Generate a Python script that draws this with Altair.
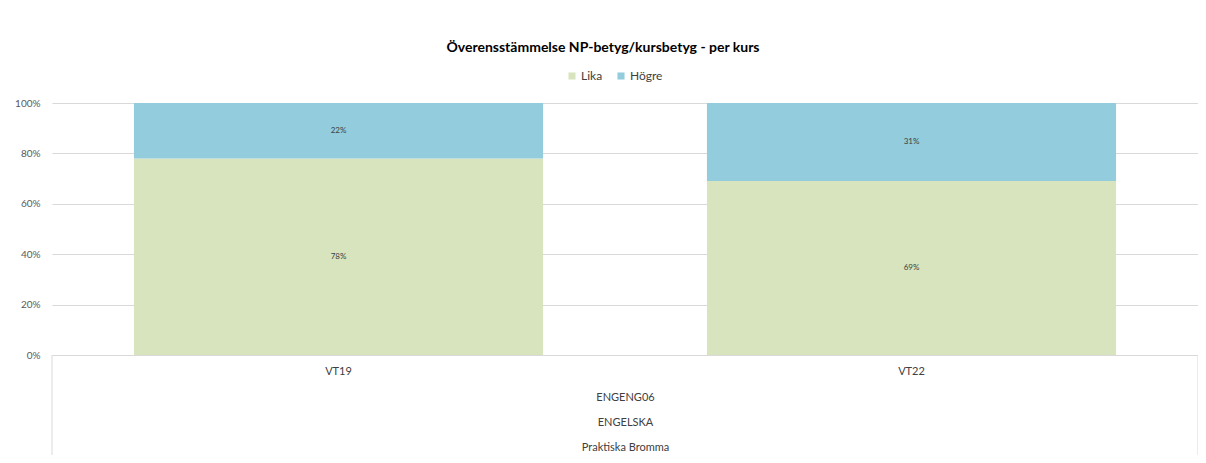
import altair as alt
import pandas as pd

periods = ["VT19", "VT19", "VT22", "VT22"]
series = ["Lika", "Högre", "Lika", "Högre"]
values = [0.78, 0.22, 0.69, 0.31]
order = [0, 1, 0, 1]
labels = ["78%", "22%", "69%", "31%"]

df = pd.DataFrame({"period": periods, "series": series, "value": values,
                   "order": order, "label": labels})

FONT = "Lato"
W, H = 1146, 252

color = alt.Color("series:N",
                  scale=alt.Scale(domain=["Lika", "Högre"], range=["#D7E4BD", "#93CDDD"]),
                  legend=alt.Legend(title=None, orient="none", direction="horizontal",
                                    legendX=514, legendY=-33, symbolType="square",
                                    symbolSize=50, symbolStrokeWidth=0, labelFontSize=12,
                                    labelColor="#404040", labelFont=FONT, columnPadding=12,
                                    labelOffset=3))

xenc = alt.X("period:N", sort=["VT19", "VT22"],
             scale=alt.Scale(paddingInner=0.286, paddingOuter=0.143),
             axis=alt.Axis(labelAngle=0, ticks=False, labelPadding=10, labelFontSize=11,
                           labelColor="#404040", labelFont=FONT, domainColor="#D9D9D9",
                           title=["ENGENG06", "ENGELSKA", "Praktiska Bromma"],
                           titleFontWeight="normal", titleFontSize=11, titleColor="#404040",
                           titleFont=FONT, titleLineHeight=25, titlePadding=15))

base = alt.Chart(df).transform_stack(
    stack="value", groupby=["period"], as_=["v0", "v1"],
    sort=[alt.SortField("order", order="ascending")]
).transform_calculate(mid="(datum.v0 + datum.v1) / 2")

bars = base.mark_bar().encode(
    x=xenc,
    y=alt.Y("v0:Q", scale=alt.Scale(domain=[0, 1]),
            axis=alt.Axis(format="%", values=[0, 0.2, 0.4, 0.6, 0.8, 1.0], domain=False,
                          ticks=False, gridColor="#D9D9D9", labelPadding=12,
                          labelFontSize=10, labelColor="#595959", labelFont=FONT,
                          title=None)),
    y2="v1:Q",
    color=color,
)

text = base.mark_text(fontSize=8, color="#404040", font=FONT).encode(
    x=alt.X("period:N", sort=["VT19", "VT22"]),
    y=alt.Y("mid:Q"),
    text="label:N",
)

edge_src = alt.Chart(pd.DataFrame({"e": [0]}))
edge_left = edge_src.mark_rule(color="#D9D9D9").encode(
    x=alt.value(0), y=alt.value(H), y2=alt.value(H + 110))
edge_right = edge_src.mark_rule(color="#D9D9D9").encode(
    x=alt.value(W), y=alt.value(H), y2=alt.value(H + 110))

chart = alt.layer(bars, text, edge_left, edge_right).properties(
    width=W, height=H,
    autosize=alt.AutoSizeParams(type="none"),
    padding={"left": 44, "top": 95, "right": 0, "bottom": 100},
    title=alt.TitleParams("Överensstämmelse NP-betyg/kursbetyg - per kurs",
                          fontSize=14, fontWeight="bold", color="#000000", font=FONT,
                          anchor="middle", offset=15, dx=-22),
).configure_view(stroke=None)

chart.save("out.html", embed_options={"renderer": "svg", "actions": False})
